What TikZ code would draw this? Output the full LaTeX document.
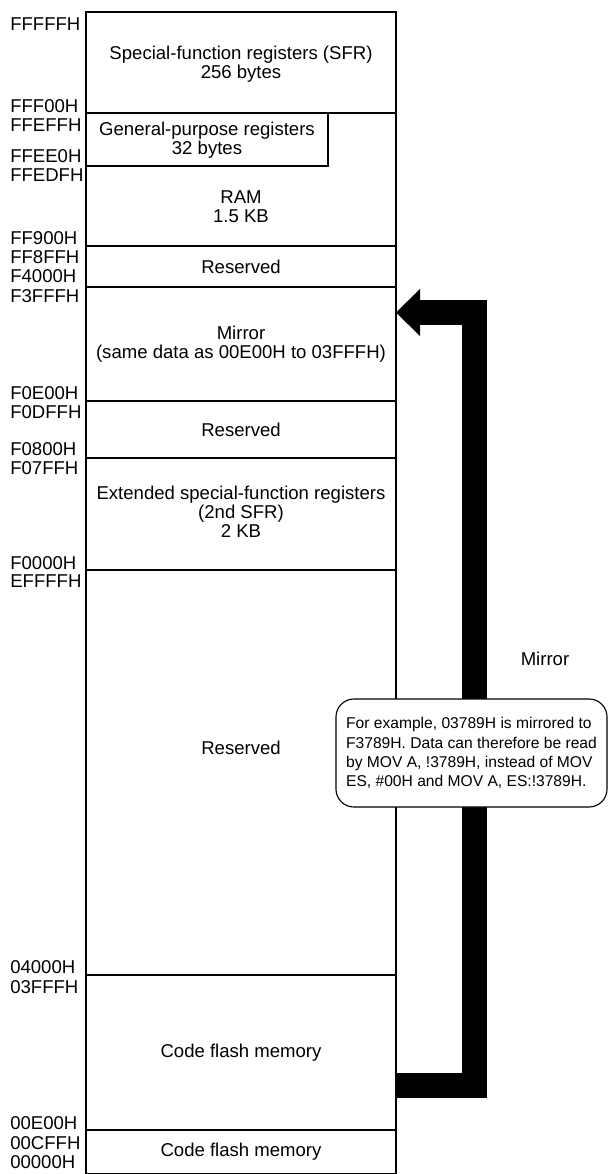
\documentclass[tikz,border=0pt]{standalone}
\usepackage{fontspec}
\setmainfont{Liberation Sans}
\usetikzlibrary{arrows.meta}

\begin{document}
\begin{tikzpicture}[x=0.025cm, y=-0.025cm,
    addr/.style={anchor=west, inner sep=0pt, font=\fontsize{13.2}{13.5}\selectfont},
    area/.style={align=center, inner sep=0pt, font=\fontsize{13.2}{13.5}\selectfont},
    note/.style={draw, line width=0.8pt, rounded corners=0.45cm, fill=white,
        minimum width=6.775cm, minimum height=2.7cm, inner sep=0pt,
        align=left, font=\fontsize{11.1}{13.6}\selectfont},
    mirrorarrow/.style={line width=0.625cm,
        -{Triangle[length=0.6cm, width=1.175cm, line width=0pt]}}]
\useasboundingbox (0,0) rectangle (608,1174);

% memory map
\draw [line width=0.8pt] (86,12) rectangle (396,1174);
\foreach \y in {113,246,287,401,458,570,975,1130} {
    \draw [line width=0.8pt] (86,\y) -- (396,\y);
}
\draw [line width=0.8pt] (86,166) -- (328,166) -- (328,113);

% addresses
\foreach \y/\t in {24/FFFFFH, 106/FFF00H, 125/FFEFFH, 156/FFEE0H, 175/FFEDFH,
    238/FF900H, 257/FF8FFH, 276/F4000H, 296/F3FFFH, 393/F0E00H, 412/F0DFFH,
    449/F0800H, 468/F07FFH, 563/F0000H, 581/EFFFFH, 967/04000H, 987/03FFFH,
    1123/00E00H, 1143/00CFFH, 1162/00000H} {
    \node [addr] (\t) at (10,\y) {\t};
}

\node [area] (sfr) at (241,64) {Special-function registers (SFR)\\256 bytes};
\node [area] (gpr) at (207,140) {General-purpose registers\\32 bytes};
\node [area] (ram) at (241,207) {RAM\\1.5 KB};
\node [area] (rsvA) at (241,267) {Reserved};
\node [area] (mirror) at (241,344) {Mirror\\(same data as 00E00H to 03FFFH)};
\node [area] (rsvB) at (241,430) {Reserved};
\node [area] (sfrB) at (241,512) {Extended special-function registers\\(2nd SFR)\\2 KB};
\node [area] (rsvC) at (241,748) {Reserved};
\node [area] (flashA) at (241,1053) {Code flash memory};
\node [area] (flashB) at (241,1152) {Code flash memory};

% mirror arrow
\coordinate (from) at (396,1085.5);
\coordinate (turn) at (474,312.5);
\coordinate (to) at (396,312.5);
\draw [mirrorarrow] (from) -| (turn) -- (to);
\node [area] (mirrorlbl) at (545,659) {Mirror};

\node [note] (example) at (471.5,753) {For example, 03789H is mirrored to\\F3789H. Data can therefore be read\\by MOV A, !3789H, instead of MOV\\ES, \#00H and MOV A, ES:!3789H.};

\end{tikzpicture}
\end{document}
